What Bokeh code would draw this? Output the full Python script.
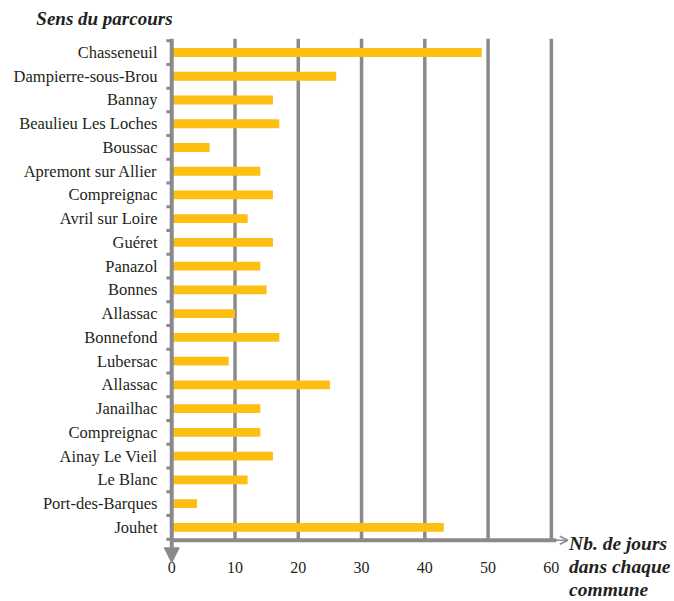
from bokeh.plotting import figure
from bokeh.models import Arrow, NormalHead, OpenHead, Label, FixedTicker, Range1d
from bokeh.embed import file_html
from bokeh.resources import INLINE

categories = ["Chasseneuil", "Dampierre-sous-Brou", "Bannay", "Beaulieu Les Loches",
              "Boussac", "Apremont sur Allier", "Compreignac", "Avril sur Loire",
              "Guéret", "Panazol", "Bonnes", "Allassac", "Bonnefond", "Lubersac",
              "Allassac", "Janailhac", "Compreignac", "Ainay Le Vieil", "Le Blanc",
              "Port-des-Barques", "Jouhet"]
values = [49, 26, 16, 17, 6, 14, 16, 12, 16, 14, 15, 10, 17, 9, 25, 14, 14, 16, 12, 4, 43]
x_ticks = [0, 10, 20, 30, 40, 50, 60]
grid_vals = [10, 20, 30, 40, 50, 60]
y_title = "Sens du parcours"
x_title = ["Nb. de jours", "dans chaque", "commune"]

GRAY = "#8a8a8c"
BAR = "#FCBF12"
TXT = "#231F20"
FONT = "Liberation Serif"

n = len(categories)
ypos = list(range(n - 1, -1, -1))
bounds = [v - 0.5 for v in range(n + 1)]

AX_Y = -0.54
Y_TOP = 20.59

p = figure(frame_width=410, frame_height=525, output_backend="svg", toolbar_location=None,
           x_range=Range1d(-1.3, 63.5), y_range=Range1d(-1.52, Y_TOP),
           min_border_left=163, min_border_right=100, min_border_top=38, min_border_bottom=38)
p.outline_line_color = None
p.xgrid.visible = False
p.ygrid.visible = False

# grid lines
p.segment(x0=grid_vals, y0=[AX_Y] * len(grid_vals), x1=grid_vals, y1=[Y_TOP] * len(grid_vals),
          line_color=GRAY, line_width=3.5)

# bars
p.hbar(y=ypos, left=0, right=values, height=0.37, fill_color=BAR, line_color=None)

# category boundary ticks on the vertical axis
p.segment(x0=[-0.85] * len(bounds), y0=bounds, x1=[0] * len(bounds), y1=bounds,
          line_color=GRAY, line_width=3)

# x axis line + arrow
p.segment(x0=[-0.3], y0=[AX_Y], x1=[60.8], y1=[AX_Y], line_color=GRAY, line_width=4)
p.add_layout(Arrow(x_start=60.5, y_start=AX_Y, x_end=62.6, y_end=AX_Y, line_color=GRAY,
                   line_width=1.5, end=OpenHead(size=8, line_color=GRAY, line_width=1.5)))

# y axis line + arrow
p.add_layout(Arrow(x_start=0, y_start=Y_TOP, x_end=0, y_end=-1.49, line_color=GRAY,
                   line_width=4, end=NormalHead(size=15, fill_color=GRAY, line_color=GRAY,
                                                 line_width=1)))

# x axis
p.xaxis.ticker = FixedTicker(ticks=x_ticks)
p.xaxis.axis_line_color = None
p.xaxis.major_tick_line_color = None
p.xaxis.minor_tick_line_color = None
p.xaxis.major_label_standoff = -8
p.xaxis.major_label_text_font = FONT
p.xaxis.major_label_text_font_size = "16px"
p.xaxis.major_label_text_color = TXT

# y axis
p.yaxis.ticker = FixedTicker(ticks=ypos)
p.yaxis.axis_line_color = None
p.yaxis.major_tick_line_color = None
p.yaxis.minor_tick_line_color = None
p.yaxis.major_tick_out = 0
p.yaxis.minor_tick_out = 0
p.yaxis.major_label_standoff = 6
p.yaxis.major_label_overrides = {y: c for y, c in zip(ypos, categories)}
p.yaxis.major_label_text_font = FONT
p.yaxis.major_label_text_font_size = "16.5px"
p.yaxis.major_label_text_color = TXT

# titles, placed in side panels so they are not clipped to the frame
p.add_layout(Label(x=-21.4, y=21.43, text=y_title,
                   text_font=FONT, text_font_style="bold italic", text_font_size="19px",
                   text_baseline="middle", text_align="left", text_color=TXT), "above")
for i, t in enumerate(x_title):
    p.add_layout(Label(x=62.8, y=-0.69 - 0.97 * i, text=t,
                       text_font=FONT, text_font_style="bold italic", text_font_size="19.5px",
                       text_baseline="middle", text_align="left", text_color=TXT), "right")

open("out.html", "w").write(file_html(p, INLINE))
